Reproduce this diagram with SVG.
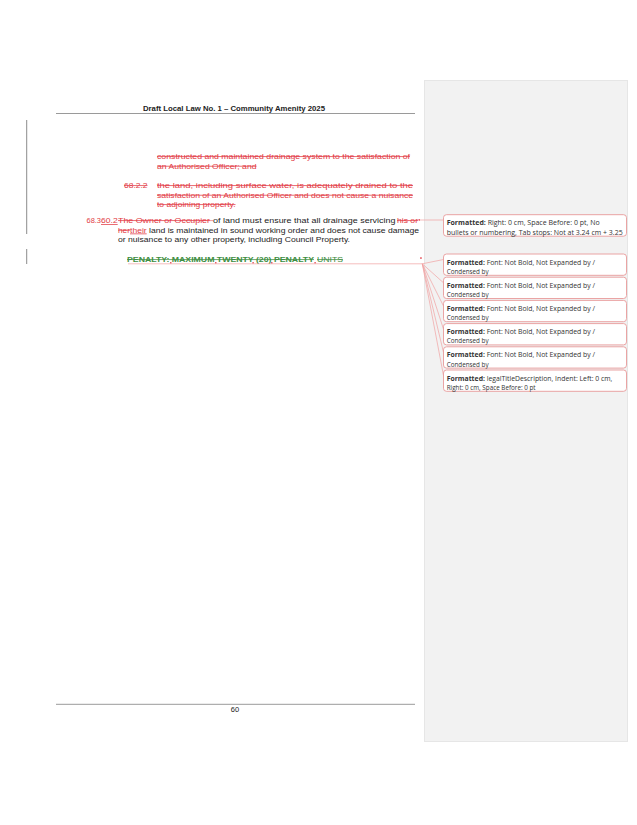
<svg xmlns="http://www.w3.org/2000/svg" width="637" height="825" viewBox="0 0 637 825">
<style>
.t{font-family:"Liberation Sans",Arial,sans-serif;font-size:7.5px;fill:#222}
.hd{font-family:"Liberation Sans",Arial,sans-serif;font-size:7px;font-weight:bold;fill:#222}
.red{fill:#e23b45}
.del{fill:#e23b45;text-decoration:line-through}
.ins{fill:#e23b45;text-decoration:underline}
.grn{fill:#3e8e41;text-decoration:line-through}
.b{font-weight:bold}
.bt{font-family:"Open Sans","Noto Sans",sans-serif;font-size:6.3px;fill:#333}
.box{fill:#fff;stroke:#e89a9a;stroke-width:0.9}
.con{stroke:#f0a2a2;stroke-width:0.7;fill:none}
.bar{fill:#8c8c8c}
.mk{fill:#e23b45}
</style>
<rect width="637" height="825" fill="#fff"/>
<g id="sidebar">
<rect x="424.5" y="80.5" width="203" height="661" fill="#f2f2f2" stroke="#e6e6e6" stroke-width="1"/>
</g>
<g id="header">
<text class="hd" x="143" y="111" textLength="182" lengthAdjust="spacingAndGlyphs">Draft Local Law No. 1 – Community Amenity 2025</text>
<line x1="56" y1="113.5" x2="415" y2="113.5" stroke="#9a9a9a" stroke-width="1"/>
</g>
<g id="change-bars">
<rect class="bar" x="26.2" y="120" width="1" height="114"/>
<rect class="bar" x="26.2" y="249" width="1" height="15"/>
</g>
<g id="body">
<text class="t del" x="157" y="159" textLength="253" lengthAdjust="spacingAndGlyphs">constructed and maintained drainage system to the satisfaction of</text>
<text class="t del" x="157" y="168.5" textLength="99.5" lengthAdjust="spacingAndGlyphs">an Authorised Officer; and</text>
<text class="t del" x="124" y="188" textLength="23.5" lengthAdjust="spacingAndGlyphs">68.2.2</text>
<text class="t del" x="157" y="188" textLength="256" lengthAdjust="spacingAndGlyphs">the land, including surface water, is adequately drained to the</text>
<text class="t del" x="157" y="197.5" textLength="256" lengthAdjust="spacingAndGlyphs">satisfaction of an Authorised Officer and does not cause a nuisance</text>
<text class="t del" x="157" y="207" textLength="78.5" lengthAdjust="spacingAndGlyphs">to adjoining property.</text>
<text class="t red" x="86.5" y="223" textLength="14.5" lengthAdjust="spacingAndGlyphs">68.3</text>
<text class="t ins" x="101" y="223" textLength="16.7" lengthAdjust="spacingAndGlyphs">60.2</text>
<text class="t del" x="118" y="223" textLength="92" lengthAdjust="spacingAndGlyphs">The Owner or Occupier</text>
<line x1="210" y1="220.6" x2="213" y2="220.6" stroke="#e23b45" stroke-width="0.5"/>
<text class="t" x="213" y="223" textLength="182.5" lengthAdjust="spacingAndGlyphs">of land must ensure that all drainage servicing</text>
<text class="t del" x="397" y="223" textLength="21" lengthAdjust="spacingAndGlyphs">his or</text>
<text class="t del" x="118" y="232.5" textLength="12" lengthAdjust="spacingAndGlyphs">her</text>
<text class="t ins" x="130" y="232.5" textLength="16.7" lengthAdjust="spacingAndGlyphs">their</text>
<text class="t" x="149" y="232.5" textLength="270" lengthAdjust="spacingAndGlyphs">land is maintained in sound working order and does not cause damage</text>
<text class="t" x="118" y="242" textLength="232" lengthAdjust="spacingAndGlyphs">or nuisance to any other property, including Council Property.</text>
<text class="t grn b" x="127" y="262" textLength="187" lengthAdjust="spacingAndGlyphs">PENALTY: MAXIMUM TWENTY (20) PENALTY</text>
<text class="t grn" x="317" y="262" textLength="26" lengthAdjust="spacingAndGlyphs">UNITS</text>
<rect class="mk" x="170.2" y="262" width="1.2" height="1.6"/>
<rect class="mk" x="215.2" y="262" width="1.2" height="1.6"/>
<rect class="mk" x="252.5" y="262" width="1.2" height="1.6"/>
<rect class="mk" x="271.2" y="262" width="1.2" height="1.6"/>
<rect class="mk" x="314.5" y="262" width="1.2" height="1.6"/>
</g>
<g id="connectors">
<line class="con" x1="419" y1="220" x2="443.5" y2="220"/>
<rect class="mk" x="418.5" y="219.2" width="1.4" height="1.4"/>
<line class="con" x1="128" y1="263.8" x2="422.3" y2="263.8"/>
<rect class="mk" x="420.2" y="257.3" width="1.5" height="1.5"/>
<line class="con" x1="422.3" y1="263.8" x2="443.5" y2="259.5"/>
<line class="con" x1="422.3" y1="263.8" x2="443.5" y2="282.8"/>
<line class="con" x1="422.3" y1="263.8" x2="443.5" y2="306"/>
<line class="con" x1="422.3" y1="263.8" x2="443.5" y2="329.2"/>
<line class="con" x1="422.3" y1="263.8" x2="443.5" y2="352.4"/>
<line class="con" x1="422.3" y1="263.8" x2="443.5" y2="375.6"/>
</g>
<g id="balloon-1">
<rect class="box" x="443.5" y="214.7" width="183" height="21.5" rx="3"/>
<text class="bt" x="446.7" y="225.2" textLength="153" lengthAdjust="spacingAndGlyphs"><tspan class="b">Formatted:</tspan> Right:  0 cm, Space Before:  0 pt,  No</text>
<text class="bt" x="446.7" y="234.5" textLength="176" lengthAdjust="spacingAndGlyphs">bullets or numbering, Tab stops: Not at  3.24 cm +  3.25</text>
</g>
<g id="balloon-2">
<rect class="box" x="443.5" y="254" width="183" height="21.3" rx="3"/>
<text class="bt" x="446.7" y="264.5" textLength="148.3" lengthAdjust="spacingAndGlyphs"><tspan class="b">Formatted:</tspan> Font: Not Bold, Not Expanded by /</text>
<text class="bt" x="446.7" y="273.8">Condensed by</text>
</g>
<g id="balloon-3">
<rect class="box" x="443.5" y="277.2" width="183" height="21.3" rx="3"/>
<text class="bt" x="446.7" y="287.7" textLength="148.3" lengthAdjust="spacingAndGlyphs"><tspan class="b">Formatted:</tspan> Font: Not Bold, Not Expanded by /</text>
<text class="bt" x="446.7" y="297">Condensed by</text>
</g>
<g id="balloon-4">
<rect class="box" x="443.5" y="300.4" width="183" height="21.3" rx="3"/>
<text class="bt" x="446.7" y="310.9" textLength="148.3" lengthAdjust="spacingAndGlyphs"><tspan class="b">Formatted:</tspan> Font: Not Bold, Not Expanded by /</text>
<text class="bt" x="446.7" y="320.2">Condensed by</text>
</g>
<g id="balloon-5">
<rect class="box" x="443.5" y="323.6" width="183" height="21.3" rx="3"/>
<text class="bt" x="446.7" y="334.1" textLength="148.3" lengthAdjust="spacingAndGlyphs"><tspan class="b">Formatted:</tspan> Font: Not Bold, Not Expanded by /</text>
<text class="bt" x="446.7" y="343.4">Condensed by</text>
</g>
<g id="balloon-6">
<rect class="box" x="443.5" y="346.8" width="183" height="21.3" rx="3"/>
<text class="bt" x="446.7" y="357.3" textLength="148.3" lengthAdjust="spacingAndGlyphs"><tspan class="b">Formatted:</tspan> Font: Not Bold, Not Expanded by /</text>
<text class="bt" x="446.7" y="366.6">Condensed by</text>
</g>
<g id="balloon-7">
<rect class="box" x="443.5" y="370" width="183" height="21.3" rx="3"/>
<text class="bt" x="446.7" y="380.5" textLength="165.6" lengthAdjust="spacingAndGlyphs"><tspan class="b">Formatted:</tspan> legalTitleDescription, Indent: Left:  0 cm,</text>
<text class="bt" x="446.7" y="389.8">Right:  0 cm, Space Before:  0 pt</text>
</g>
<g id="footer">
<line x1="56" y1="704.3" x2="415" y2="704.3" stroke="#9a9a9a" stroke-width="1"/>
<text class="t" x="235" y="712" text-anchor="middle">60</text>
</g>
</svg>
